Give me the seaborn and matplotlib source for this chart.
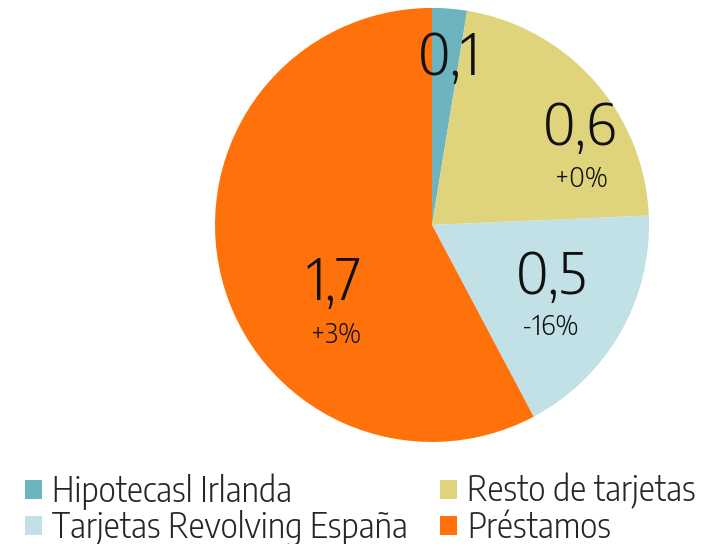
import matplotlib
matplotlib.use("Agg")
import matplotlib.pyplot as plt
import seaborn as sns
from matplotlib.patches import Patch

categories = ["Hipotecasl Irlanda", "Resto de tarjetas", "Tarjetas Revolving España", "Préstamos"]
values = [0.075, 0.63, 0.52, 1.675]
value_labels = ["0,1", "0,6", "0,5", "1,7"]
change_labels = ["", "+0%", "-16%", "+3%"]
colors = ["#6cb4bf", "#dfd47b", "#c1e1e6", "#ff710a"]

sns.set_theme(style="white")
plt.rcParams["font.family"] = ["Encode Sans Semi Condensed", "DejaVu Sans"]
plt.rcParams["font.weight"] = 300

fig = plt.figure(figsize=(7.08, 5.44), dpi=100)
ax = fig.add_axes([0.3037, 0.1875, 0.613, 0.798])
ax.pie(values, colors=colors, startangle=90, counterclock=False,
       wedgeprops={"linewidth": 0})
ax.set_aspect("equal")
ax.set_xlim(-1, 1)
ax.set_ylim(-1, 1)

# label anchors (data units, pie radius = 1)
big_pos = [(0.078, 0.77), (0.682, 0.447), (0.548, -0.24), (-0.452, -0.267)]
small_pos = [None, (0.687, 0.21), (0.544, -0.47), (-0.442, -0.505)]
for lab, pos in zip(value_labels, big_pos):
    ax.text(pos[0], pos[1], lab, ha="center", va="center", fontsize=41, color="#111111")
for lab, pos in zip(change_labels, small_pos):
    if pos:
        ax.text(pos[0], pos[1], lab, ha="center", va="center", fontsize=19.5, color="#111111")

# legend is filled row-wise in the reference, matplotlib fills columns
order = [0, 2, 1, 3]
handles = [Patch(facecolor=colors[i], edgecolor="none") for i in order]
fig.legend(handles, [categories[i] for i in order], loc="upper left",
           bbox_to_anchor=(0.036, 0.13), ncol=2, frameon=False, fontsize=24.2,
           handlelength=0.5, handleheight=0.5, handletextpad=0.3,
           columnspacing=0.95, labelspacing=0.0, borderaxespad=0, borderpad=0)

fig.savefig("out.png", dpi=100)
